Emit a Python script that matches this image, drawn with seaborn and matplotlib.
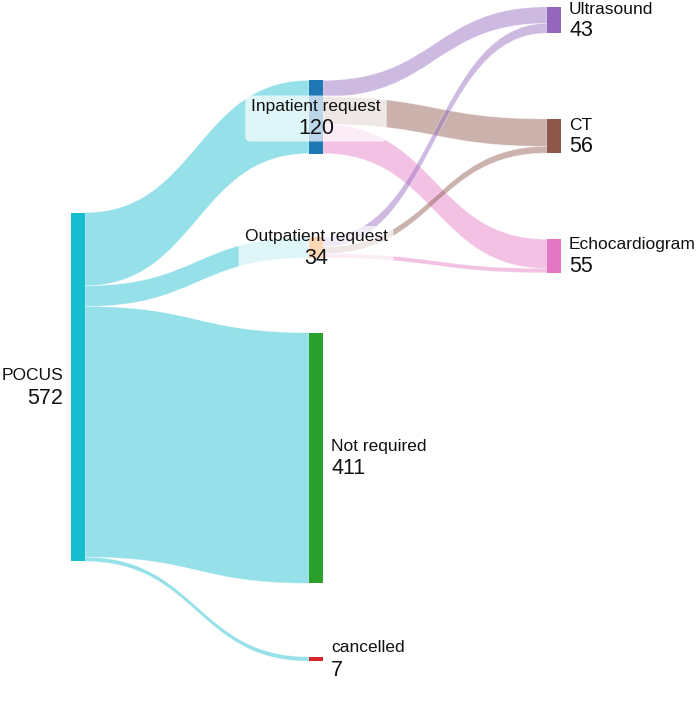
import numpy as np
import pandas as pd
import seaborn as sns
import matplotlib.pyplot as plt
from matplotlib.path import Path
from matplotlib.patches import PathPatch, Rectangle, FancyBboxPatch

sns.set_theme(style="white")
plt.rcParams['font.family'] = ['Liberation Sans', 'DejaVu Sans']

# ---------------- data ----------------
nodes = ["POCUS", "Inpatient request", "Outpatient request", "Not required",
         "cancelled", "Ultrasound", "CT", "Echocardiogram"]
node_values = [572, 120, 34, 411, 7, 43, 56, 55]
link_source = ["POCUS", "POCUS", "POCUS", "POCUS",
               "Inpatient request", "Inpatient request", "Inpatient request",
               "Outpatient request", "Outpatient request", "Outpatient request"]
link_target = ["Inpatient request", "Outpatient request", "Not required", "cancelled",
               "Ultrasound", "CT", "Echocardiogram",
               "Ultrasound", "CT", "Echocardiogram"]
link_values = [120, 34, 411, 7, 27, 45, 48, 16, 11, 7]

# ---------------- layout / style ----------------
pal = sns.color_palette("tab10")
node_color = {"POCUS": pal[9], "Inpatient request": pal[0], "Outpatient request": pal[1],
              "Not required": pal[2], "cancelled": pal[3], "Ultrasound": pal[4],
              "CT": pal[5], "Echocardiogram": pal[6]}
node_col = {"POCUS": 0, "Inpatient request": 1, "Outpatient request": 1, "Not required": 1,
            "cancelled": 1, "Ultrasound": 2, "CT": 2, "Echocardiogram": 2}
# vertical centre of each node (layout units = pixels)
node_center = {"POCUS": 387, "Inpatient request": 117, "Outpatient request": 247.5,
               "Not required": 458, "cancelled": 659, "Ultrasound": 20,
               "CT": 136, "Echocardiogram": 256}
label_mode = {"POCUS": "left", "Inpatient request": "box", "Outpatient request": "box",
              "Not required": "right", "cancelled": "right", "Ultrasound": "right",
              "CT": "right", "Echocardiogram": "right"}
col_x = [71, 309, 547]
node_w = 14
scale = 0.61

df = pd.DataFrame({"source": link_source, "target": link_target, "value": link_values})

fig = plt.figure(figsize=(6.99, 7.05), dpi=100)
ax = fig.add_axes([0, 0, 1, 1])
ax.set_xlim(0, 699)
ax.set_ylim(705, 0)
ax.axis("off")

vals = dict(zip(nodes, node_values))
top = {n: node_center[n] - vals[n] * scale / 2 for n in nodes}

out_off = {n: top[n] for n in nodes}
in_off = {n: top[n] for n in nodes}
df["t_pos"] = df["target"].map(node_center)
df["s_pos"] = df["source"].map(node_center)
ys = {}
for i, r in df.sort_values(["source", "t_pos"]).iterrows():
    h = r.value * scale
    ys[i] = [out_off[r.source], out_off[r.source] + h]
    out_off[r.source] += h
yt = {}
for i, r in df.sort_values(["target", "s_pos"]).iterrows():
    h = r.value * scale
    yt[i] = [in_off[r.target], in_off[r.target] + h]
    in_off[r.target] += h

for i, r in df.iterrows():
    x0 = col_x[node_col[r.source]] + node_w
    x1 = col_x[node_col[r.target]]
    xm = (x0 + x1) / 2
    s0, s1 = ys[i]
    t0, t1 = yt[i]
    verts = [(x0, s0), (xm, s0), (xm, t0), (x1, t0),
             (x1, t1), (xm, t1), (xm, s1), (x0, s1), (x0, s0)]
    codes = [Path.MOVETO, Path.CURVE4, Path.CURVE4, Path.CURVE4,
             Path.LINETO, Path.CURVE4, Path.CURVE4, Path.CURVE4, Path.CLOSEPOLY]
    col = node_color[r.source] if r.source == "POCUS" else node_color[r.target]
    ax.add_patch(PathPatch(Path(verts, codes), facecolor=col, alpha=0.45,
                           edgecolor="white", linewidth=0.5, zorder=1))

for n in nodes:
    ax.add_patch(Rectangle((col_x[node_col[n]], top[n]), node_w, vals[n] * scale,
                           facecolor=node_color[n], edgecolor="none", zorder=2))

fig.canvas.draw()
renderer = fig.canvas.get_renderer()
name_fs, num_fs = 12.5, 15.5
for n in nodes:
    c = node_center[n]
    x = col_x[node_col[n]]
    mode = label_mode[n]
    if mode == "left":
        tx, ha = x - 8, "right"
    elif mode == "right":
        tx, ha = x + node_w + 8, "left"
    else:
        tx, ha = x + node_w / 2, "center"
    t1 = ax.text(tx, c - 11, n, fontsize=name_fs, ha=ha, va="center", color="#111111", zorder=5)
    t2 = ax.text(tx, c + 11, str(vals[n]), fontsize=num_fs, ha=ha, va="center", color="#111111", zorder=5)
    if mode == "box":
        bb1 = t1.get_window_extent(renderer)
        bb2 = t2.get_window_extent(renderer)
        inv = ax.transData.inverted()
        (ax0, ay0) = inv.transform((min(bb1.x0, bb2.x0), min(bb1.y0, bb2.y0)))
        (ax1, ay1) = inv.transform((max(bb1.x1, bb2.x1), max(bb1.y1, bb2.y1)))
        ylo, yhi = min(ay0, ay1), max(ay0, ay1)
        ax.add_patch(FancyBboxPatch((ax0 - 6, ylo - 3), (ax1 - ax0) + 12, (yhi - ylo) + 6,
                                    boxstyle="round,pad=0,rounding_size=5",
                                    facecolor="white", alpha=0.7, edgecolor="none", zorder=4))

fig.savefig("out.png", dpi=100)
